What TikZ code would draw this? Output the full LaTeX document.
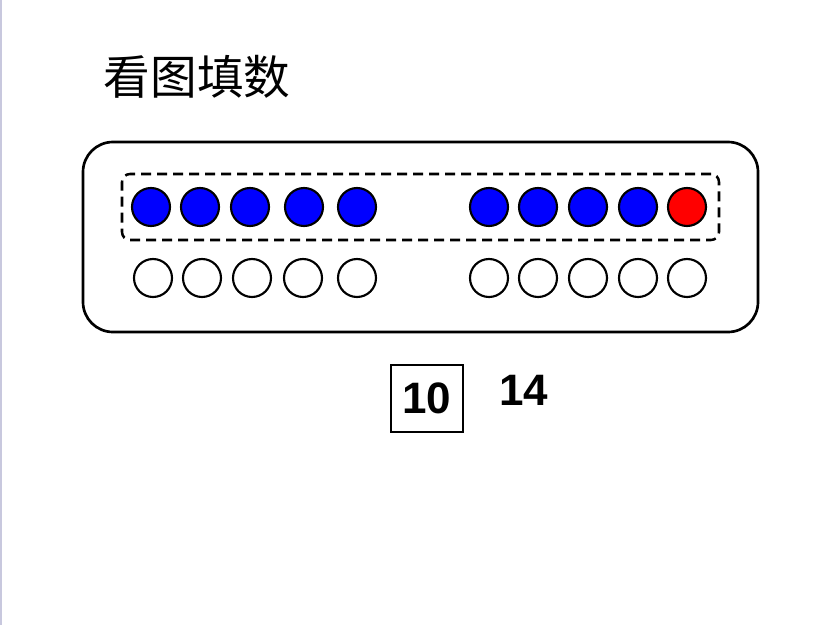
\documentclass[tikz,border=0pt]{standalone}
\usepackage{fontspec}
\setmainfont{Liberation Sans}
\newfontfamily\cjk{Noto Sans CJK SC}
\begin{document}
\begin{tikzpicture}[x=0.75pt,y=-0.75pt,
  ball/.style={circle,draw=black,line width=1.6pt,minimum size=28.5pt,inner sep=0pt},
  fullball/.style={ball,fill=blue},
  redball/.style={ball,fill=red},
  emptyball/.style={ball,fill=white},
  frame/.style={draw=black,line width=2pt,rounded corners=22.5pt,minimum width=506.25pt,minimum height=142.5pt,inner sep=0pt},
  group/.style={draw=black,line width=1.9pt,dash pattern=on 7.5pt off 4.5pt,rounded corners=6pt,minimum width=447.75pt,minimum height=49.5pt,inner sep=0pt},
  numbox/.style={draw=black,line width=2pt,minimum width=54pt,minimum height=50.25pt,inner sep=0pt,font=\fontsize{33}{36}\selectfont\bfseries},
  numtext/.style={font=\fontsize{33}{36}\selectfont\bfseries,inner sep=0pt},
  title/.style={font=\cjk\fontsize{35}{38}\selectfont,inner sep=0pt}]
\useasboundingbox (0,0) rectangle (833,625);
\fill[white] (0,0) rectangle (833,625);
\draw[color={rgb,255:red,200;green,200;blue,222},line width=1.2pt] (0.8,0) -- (0.8,625);
\node[title] (t) at (197,77) {看图填数};
\node[frame] (outer) at (420.5,237) {};
\node[group] (dash) at (420.5,207) {};
\foreach \x/\n in {151/1,200/2,250/3,304/4,357/5,489/6,538/7,588/8,638/9}
  \node[fullball] (b\n) at (\x,207) {};
\node[redball] (b10) at (687,207) {};
\foreach \x/\n in {153/1,202/2,252/3,303/4,357/5,489/6,538/7,588/8,638/9,687/10}
  \node[emptyball] (w\n) at (\x,278) {};
\node[numbox] (ten) at (427,398.5) {10};
\node[numtext] (ft) at (524,390) {14};
\end{tikzpicture}
\end{document}
